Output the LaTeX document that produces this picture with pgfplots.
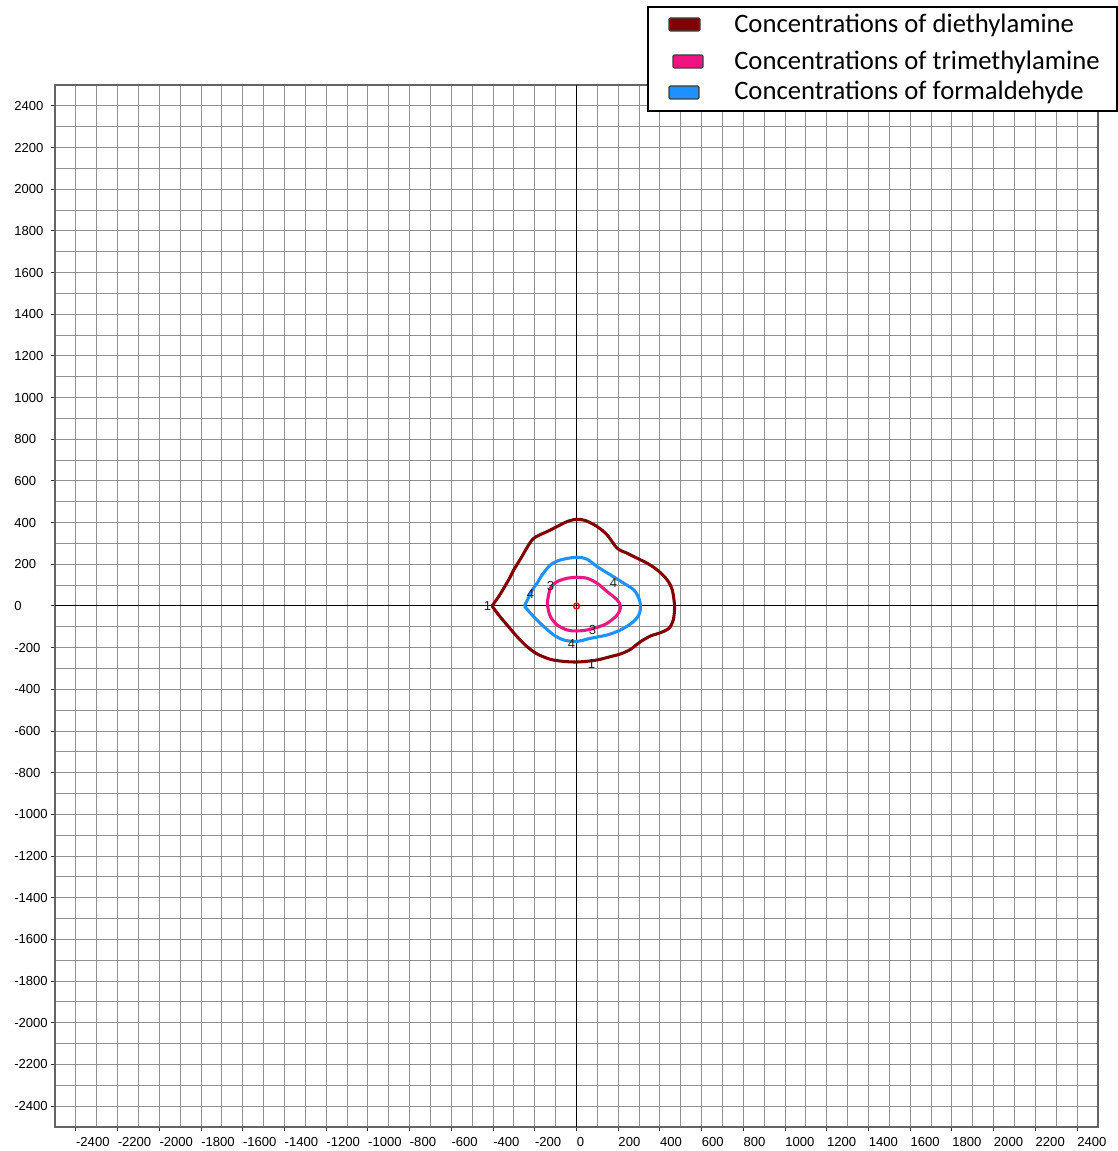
\documentclass[border=0pt]{standalone}
\usepackage{pgfplots}
\pgfplotsset{compat=1.18}
\usepackage{fontspec}
\setmainfont{Liberation Sans}
\newfontfamily\carlito{Carlito}
\definecolor{dred}{RGB}{128,0,0}
\definecolor{dpink}{RGB}{240,20,130}
\definecolor{dblue}{RGB}{30,144,255}
\definecolor{gridgray}{RGB}{145,145,145}
\definecolor{framegray}{RGB}{100,100,100}
\begin{document}
\begin{tikzpicture}[x=0.75bp,y=0.75bp]
\useasboundingbox (0,0) rectangle (1118,1151);
\begin{axis}[
  at={(41.25bp,18bp)}, anchor=south west,
  scale only axis, width=782.25bp, height=781.5bp,
  xmin=-2500, xmax=2500, ymin=-2500, ymax=2500,
  xtick={-2400,-2200,...,2400}, ytick={-2400,-2200,...,2400},
  minor xtick={-2500,-2300,...,2500}, minor ytick={-2500,-2300,...,2500},
  grid=both,
  major grid style={draw=gridgray, line width=0.75bp},
  minor grid style={draw=gridgray, line width=0.75bp},
  tick align=outside, major tick length=3bp, minor tick length=0pt,
  tick pos=left,
  axis line style={draw=framegray, line width=1.1bp},
  major tick style={draw=black!80, line width=0.75bp},
  scaled ticks=false,
  /pgf/number format/1000 sep={},
  /pgf/number format/assume math mode=true,
  ticklabel style={font=\fontsize{9.8bp}{11bp}\selectfont, inner sep=0pt},
  xticklabel style={anchor=north west, yshift=-4.5bp},
  yticklabel style={anchor=west, xshift=-27.75bp},
]
\addplot[black, line width=0.75bp] coordinates {(-2500,0) (2500,0)};
\addplot[black, line width=0.75bp] coordinates {(0,-2500) (0,2500)};
% diethylamine
\addplot[dred, line width=2.3bp, smooth, tension=0.5] coordinates {
(-405,0) (-370,50) (-349,85) (-320,135) (-301,173) (-275,215) (-253,253) (-225,300) (-205,325) (-175,342) (-141,357) (-93,381) (-45,405) (0,416) (43,410) (99,381) (147,341) (195,277) (243,253) (291,229) (339,205) (387,173) (435,125) (459,77) (470,0) (464,-67) (443,-107) (403,-128) (355,-144) (307,-171) (259,-208) (211,-230) (163,-243) (99,-259) (35,-267) (0,-269) (-61,-266) (-125,-256) (-189,-230) (-237,-195) (-285,-147) (-333,-91) (-373,-43) (-405,0)};
% formaldehyde
\addplot[dblue, line width=2.3bp, smooth, tension=0.5] coordinates {
(-250,0) (-230,40) (-221,61) (-200,95) (-189,109) (-165,149) (-125,197) (-77,221) (0,234) (51,224) (99,189) (163,149) (227,109) (275,77) (299,37) (307,-3) (299,-43) (267,-80) (211,-115) (147,-139) (67,-155) (0,-170) (-61,-163) (-109,-139) (-165,-91) (-213,-43) (-250,0)};
% trimethylamine
\addplot[dpink, line width=2.3bp, smooth, tension=0.5] coordinates {
(0,138) (51,133) (99,109) (147,69) (195,29) (211,-3) (195,-43) (147,-83) (99,-102) (51,-115) (0,-120) (-45,-115) (-93,-91) (-125,-51) (-138,-3) (-138,29) (-125,85) (-93,117) (-45,133) (0,138)};
\addplot[only marks, mark=o, mark size=2.2bp, red, line width=1.1bp, mark options={fill=white}] coordinates {(0,0)};
\begin{scope}[every node/.style={font=\fontsize{9.8bp}{11bp}\selectfont, text=black!85, inner sep=0pt}]
\node at (axis cs:-427,0) {1};
\node at (axis cs:72,-278) {1};
\node at (axis cs:-221,58) {4};
\node at (axis cs:177,110) {4};
\node at (axis cs:-24,-182) {4};
\node at (axis cs:-125,96) {3};
\node at (axis cs:77,-115) {3};
\end{scope}
\end{axis}
% legend
\draw[line width=1.5bp, fill=white] (648,1040) rectangle (1117,1144);
\draw[draw=black!75, fill=dred, line width=1bp, rounded corners=1bp] (669,1120) rectangle (700,1133);
\draw[draw=black!75, fill=dpink, line width=1bp, rounded corners=1bp] (673,1083) rectangle (703,1096);
\draw[draw=black!75, fill=dblue, line width=1bp, rounded corners=1bp] (669,1052) rectangle (699,1065);
\begin{scope}[every node/.style={anchor=base west, inner sep=0pt, font=\carlito\fontsize{20bp}{24bp}\selectfont}]
\node at (734,1118) {Concentrations of diethylamine};
\node at (734,1081) {Concentrations of trimethylamine};
\node at (734,1051) {Concentrations of formaldehyde};
\end{scope}
\end{tikzpicture}
\end{document}
